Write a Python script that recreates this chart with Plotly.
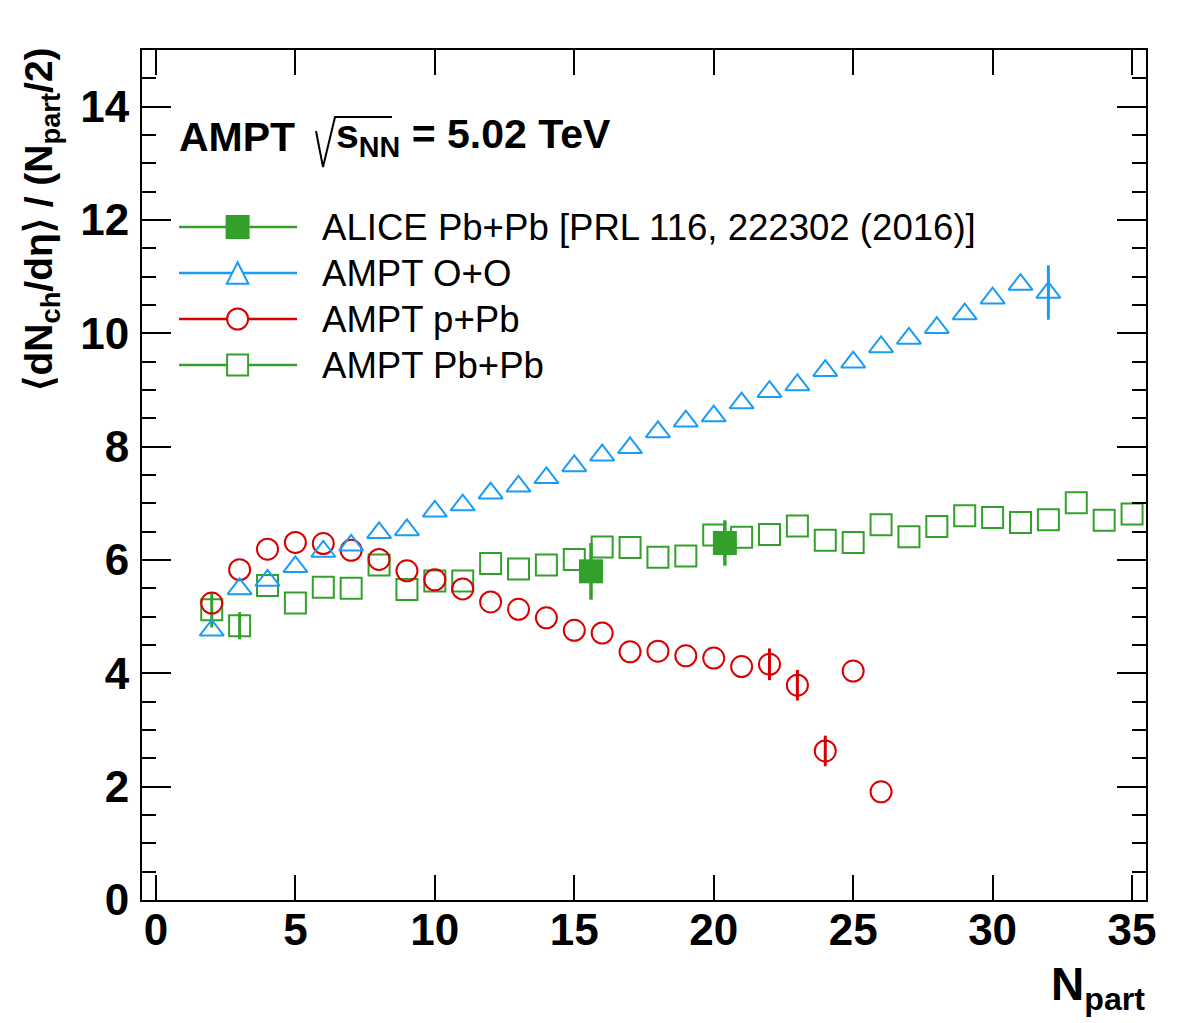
import plotly.graph_objects as go

# ---------------- data ----------------
oo_npart = list(range(2, 33))
oo_val = [4.76, 5.49, 5.64, 5.88, 6.15, 6.26, 6.48, 6.53, 6.86, 6.97, 7.18, 7.30,
          7.45, 7.66, 7.85, 7.98, 8.26, 8.45, 8.54, 8.77, 8.97, 9.09, 9.34, 9.49,
          9.76, 9.91, 10.10, 10.34, 10.62, 10.86, 10.72]
oo_err = [0] * 30 + [0.48]

ppb_npart = list(range(2, 27))
ppb_val = [5.24, 5.83, 6.19, 6.31, 6.29, 6.17, 6.01, 5.81, 5.65, 5.49, 5.26, 5.13,
           4.98, 4.76, 4.71, 4.38, 4.39, 4.31, 4.27, 4.12, 4.16, 3.79, 2.63, 4.04, 1.91]
ppb_err = [0] * 20 + [0.28, 0.27, 0.27, 0, 0]

pbpb_npart = list(range(2, 36))
pbpb_val = [5.12, 4.84, 5.55, 5.24, 5.52, 5.50, 5.91, 5.48, 5.63, 5.63, 5.94, 5.84,
            5.91, 6.01, 6.23, 6.22, 6.05, 6.07, 6.44, 6.40, 6.45, 6.60, 6.35, 6.31,
            6.62, 6.41, 6.59, 6.78, 6.75, 6.66, 6.71, 7.01, 6.70, 6.81]
pbpb_err = [0.31, 0.24] + [0] * 32

alice_npart = [15.6, 20.4]
alice_val = [5.80, 6.30]
alice_err = [0.50, 0.40]

legend_labels = ["ALICE Pb+Pb [PRL 116, 222302 (2016)]", "AMPT O+O", "AMPT p+Pb", "AMPT Pb+Pb"]
x_ticks = [0, 5, 10, 15, 20, 25, 30, 35]
y_ticks = [0, 2, 4, 6, 8, 10, 12, 14]

# ---------------- style ----------------
BLUE = "#1a9cf4"
RED = "#d80000"
GREEN = "#34a02c"
FONT = "Liberation Sans, Arial, Helvetica, sans-serif"

W, H = 1182, 1023
L, R, T, B = 142, 36, 50, 123
PW, PH = W - L - R, H - T - B


def px(x):
    return (x - L) / PW


def py(y):
    return (H - B - y) / PH


fig = go.Figure()

fig.add_trace(go.Scatter(
    x=pbpb_npart, y=pbpb_val, mode="markers", name="AMPT Pb+Pb",
    error_y=dict(type="data", array=pbpb_err, color=GREEN, thickness=3, width=0),
    marker=dict(symbol="square-open", size=21, color=GREEN, line=dict(width=2, color=GREEN)),
    showlegend=False))
fig.add_trace(go.Scatter(
    x=ppb_npart, y=ppb_val, mode="markers", name="AMPT p+Pb",
    error_y=dict(type="data", array=ppb_err, color=RED, thickness=3, width=0),
    marker=dict(symbol="circle-open", size=21, color=RED, line=dict(width=2, color=RED)),
    showlegend=False))
fig.add_trace(go.Scatter(
    x=oo_npart, y=oo_val, mode="markers", name="AMPT O+O",
    error_y=dict(type="data", array=oo_err, color=BLUE, thickness=3, width=0),
    marker=dict(symbol="triangle-up-open", size=21, color=BLUE, line=dict(width=2, color=BLUE)),
    showlegend=False))
fig.add_trace(go.Scatter(
    x=alice_npart, y=alice_val, mode="markers", name="ALICE Pb+Pb",
    error_y=dict(type="data", array=alice_err, color=GREEN, thickness=3.5, width=0),
    marker=dict(symbol="square", size=24, color=GREEN, line=dict(width=0)),
    showlegend=False))

shapes = []
annotations = []

# ----- legend (manual, ROOT style) -----
leg_y = [227, 273, 319, 365]
leg_cols = [GREEN, BLUE, RED, GREEN]
for i, (yy, c, lab) in enumerate(zip(leg_y, leg_cols, legend_labels)):
    shapes.append(dict(type="line", xref="paper", yref="paper",
                       x0=px(179), x1=px(297), y0=py(yy), y1=py(yy),
                       line=dict(color=c, width=2.5)))
    annotations.append(dict(xref="paper", yref="paper", x=px(320), y=py(yy),
                            xanchor="left", yanchor="middle", showarrow=False,
                            text=lab, font=dict(family=FONT, size=36.6, color="black")))
cx = 237.6
# filled square
shapes.append(dict(type="rect", xref="paper", yref="paper",
                   x0=px(cx - 12), x1=px(cx + 12), y0=py(leg_y[0] - 12), y1=py(leg_y[0] + 12),
                   fillcolor=GREEN, line=dict(width=0)))
# open triangle
tri = "M {:.5f},{:.5f} L {:.5f},{:.5f} L {:.5f},{:.5f} Z".format(
    px(cx - 10.8), py(leg_y[1] + 10.8), px(cx + 10.8), py(leg_y[1] + 10.8), px(cx), py(leg_y[1] - 10.8))
shapes.append(dict(type="path", xref="paper", yref="paper", path=tri,
                   fillcolor="white", line=dict(color=BLUE, width=2)))
# open circle
shapes.append(dict(type="circle", xref="paper", yref="paper",
                   x0=px(cx - 10.5), x1=px(cx + 10.5), y0=py(leg_y[2] - 10.5), y1=py(leg_y[2] + 10.5),
                   fillcolor="white", line=dict(color=RED, width=2)))
# open square
shapes.append(dict(type="rect", xref="paper", yref="paper",
                   x0=px(cx - 10.5), x1=px(cx + 10.5), y0=py(leg_y[3] - 10.5), y1=py(leg_y[3] + 10.5),
                   fillcolor="white", line=dict(color=GREEN, width=2)))

# ----- header text -----
annotations.append(dict(xref="paper", yref="paper", x=px(177), y=py(137),
                        xanchor="left", yanchor="middle", showarrow=False,
                        text="<b>AMPT</b>", font=dict(family=FONT, size=41, color="black")))
annotations.append(dict(xref="paper", yref="paper", x=px(334), y=py(137),
                        xanchor="left", yanchor="middle", showarrow=False,
                        text="<b>s<sub>NN</sub> = 5.02 TeV</b>", font=dict(family=FONT, size=41, color="black")))
rad = "M {:.5f},{:.5f} L {:.5f},{:.5f} L {:.5f},{:.5f} L {:.5f},{:.5f}".format(
    px(316), py(131), px(323), py(167), px(335), py(117), px(392), py(117))
shapes.append(dict(type="path", xref="paper", yref="paper", path=rad,
                   line=dict(color="black", width=2)))

# ----- axis titles -----
annotations.append(dict(xref="paper", yref="paper", x=px(41), y=py(46),
                        xanchor="center", yanchor="top", showarrow=False, textangle=-90,
                        text="<b>\u27e8dN<sub>ch</sub>/d\u03b7\u27e9 / (N<sub>part</sub>/2)</b>",
                        font=dict(family=FONT, size=39, color="black")))
annotations.append(dict(xref="paper", yref="paper", x=px(1147), y=py(987),
                        xanchor="right", yanchor="middle", showarrow=False,
                        text="<b>N<sub>part</sub></b>",
                        font=dict(family=FONT, size=46, color="black")))

fig.update_layout(
    width=W, height=H,
    margin=dict(l=L, r=R, t=T, b=B, pad=0),
    paper_bgcolor="white", plot_bgcolor="white",
    showlegend=False,
    shapes=shapes, annotations=annotations,
    font=dict(family=FONT, color="black"),
)
fig.update_xaxes(
    range=[-0.5, 35.5], tickvals=x_ticks, ticks="inside", ticklen=25, tickwidth=1.5,
    tickcolor="black", showline=True, linecolor="black", linewidth=2, mirror="ticks",
    showgrid=False, zeroline=False, ticklabelstandoff=-10,
    tickfont=dict(family=FONT, size=44, color="black", weight="bold"),
)
fig.update_yaxes(
    range=[0, 15], tickvals=y_ticks, ticks="inside", ticklen=29, tickwidth=1.5,
    tickcolor="black", showline=True, linecolor="black", linewidth=2, mirror="ticks",
    showgrid=False, zeroline=False, ticklabelstandoff=2,
    minor=dict(dtick=0.5, ticks="inside", ticklen=14, tickwidth=1.5, tickcolor="black", showgrid=False),
    tickfont=dict(family=FONT, size=44, color="black", weight="bold"),
)

fig.write_html("out.html")
